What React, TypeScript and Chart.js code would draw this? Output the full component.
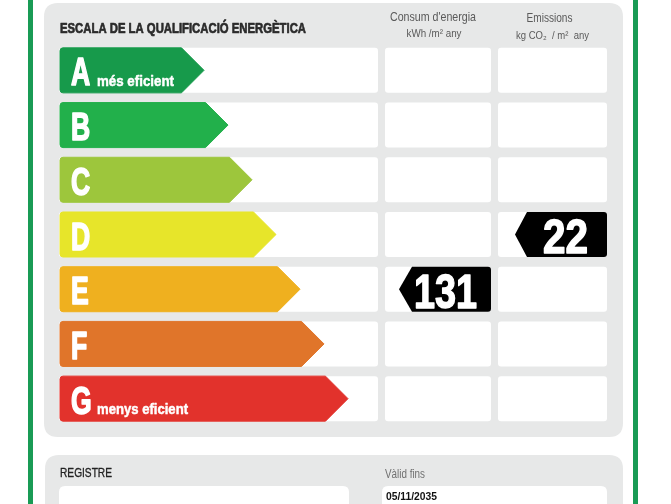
import React, { useEffect, useRef } from 'react';
import { Chart, registerables } from 'chart.js';

Chart.register(...registerables);

// ---- data ----
const ratings = ['A', 'B', 'C', 'D', 'E', 'F', 'G'];
const barLengths = [6, 7, 8, 9, 10, 11, 12];
const ratingColors = ['#179a4b', '#22b04b', '#9dc63c', '#e7e52a', '#efb01f', '#e0752a', '#e2322c'];
const ratingCaptions = ['més eficient', '', '', '', '', '', 'menys eficient'];
const energyValue = 131;
const energyClass = 'E';
const emissionsValue = 22;
const emissionsClass = 'D';
const titleText = 'ESCALA DE LA QUALIFICACIÓ ENERGÈTICA';
const energyHeader = ["Consum d'energia", 'kWh /m² any'];
const emissionsHeader = ['Emissions', 'kg CO₂  / m²  any'];
const registerLabel = 'REGISTRE';
const validLabel = 'Vàlid fins';
const validDate = '05/11/2035';

const PANEL = '#e7e8e8';
const FRAME = '#199b55';

function rr(ctx: CanvasRenderingContext2D, x: number, y: number, w: number, h: number, r: number) {
  ctx.beginPath();
  ctx.moveTo(x + r, y);
  ctx.lineTo(x + w - r, y);
  ctx.quadraticCurveTo(x + w, y, x + w, y + r);
  ctx.lineTo(x + w, y + h - r);
  ctx.quadraticCurveTo(x + w, y + h, x + w - r, y + h);
  ctx.lineTo(x + r, y + h);
  ctx.quadraticCurveTo(x, y + h, x, y + h - r);
  ctx.lineTo(x, y + r);
  ctx.quadraticCurveTo(x, y, x + r, y);
  ctx.closePath();
}

function fitText(
  ctx: CanvasRenderingContext2D,
  text: string,
  x: number,
  y: number,
  font: string,
  color: string,
  width: number,
  align: 'left' | 'center' = 'left',
  stroke = 0
) {
  ctx.save();
  ctx.font = font;
  ctx.fillStyle = color;
  ctx.strokeStyle = color;
  ctx.textAlign = 'left';
  ctx.textBaseline = 'alphabetic';
  const w = ctx.measureText(text).width || 1;
  const sx = width / w;
  const left = align === 'center' ? x - width / 2 : x;
  ctx.translate(left, y);
  ctx.scale(sx, 1);
  ctx.fillText(text, 0, 0);
  if (stroke > 0) {
    ctx.lineWidth = stroke;
    ctx.lineJoin = 'round';
    ctx.strokeText(text, 0, 0);
  }
  ctx.restore();
}

function scaledText(
  ctx: CanvasRenderingContext2D,
  text: string,
  x: number,
  y: number,
  font: string,
  color: string,
  sx: number,
  stroke = 0
) {
  ctx.save();
  ctx.font = font;
  ctx.fillStyle = color;
  ctx.strokeStyle = color;
  ctx.textAlign = 'left';
  ctx.textBaseline = 'alphabetic';
  ctx.translate(x, y);
  ctx.scale(sx, 1);
  ctx.fillText(text, 0, 0);
  if (stroke > 0) {
    ctx.lineWidth = stroke;
    ctx.lineJoin = 'round';
    ctx.strokeText(text, 0, 0);
  }
  ctx.restore();
}

const COL2 = { left: 385, right: 491 };
const COL3 = { left: 498, right: 607 };

const backgroundPlugin = {
  id: 'labelBackground',
  beforeDraw(chart: any) {
    const ctx: CanvasRenderingContext2D = chart.ctx;
    const W = chart.width;
    const H = chart.height;
    const area = chart.chartArea;
    ctx.save();
    ctx.fillStyle = '#ffffff';
    ctx.fillRect(0, 0, W, H);
    // frame lines
    ctx.fillStyle = FRAME;
    ctx.fillRect(28, 0, 5, H);
    ctx.fillRect(633, 0, 5, H);
    // panels
    ctx.fillStyle = PANEL;
    rr(ctx, 44, 3, 579, 434, 14);
    ctx.fill();
    rr(ctx, 45, 455, 578, 90, 14);
    ctx.fill();
    // row cells
    const meta = chart.getDatasetMeta(0);
    ctx.fillStyle = '#ffffff';
    meta.data.forEach((el: any) => {
      const h = el.height;
      const top = el.y - h / 2;
      rr(ctx, area.left - 1, top, area.right - area.left + 1, h, 3);
      ctx.fill();
      rr(ctx, COL2.left, top, COL2.right - COL2.left, h, 3);
      ctx.fill();
      rr(ctx, COL3.left, top, COL3.right - COL3.left, h, 3);
      ctx.fill();
    });
    // title
    fitText(ctx, titleText, 60, 33, 'bold 15px "Liberation Sans", Arial, sans-serif', '#2b2b2b', 246, 'left', 0.7);
    // headers
    const c2 = (COL2.left + COL2.right) / 2;
    const c3 = (COL3.left + COL3.right) / 2;
    fitText(ctx, energyHeader[0], c2 - 5, 21, '13px "Liberation Sans", Arial, sans-serif', '#5a5a5a', 86, 'center');
    fitText(ctx, energyHeader[1], c2 - 4, 37, '10.5px "Liberation Sans", Arial, sans-serif', '#5a5a5a', 55, 'center');
    fitText(ctx, emissionsHeader[0], c3 - 3, 22, '13px "Liberation Sans", Arial, sans-serif', '#5a5a5a', 46, 'center');
    fitText(ctx, emissionsHeader[1], c3, 39, '10.5px "Liberation Sans", Arial, sans-serif', '#5a5a5a', 73, 'center');
    // bottom panel
    ctx.fillStyle = '#ffffff';
    rr(ctx, 59, 486, 290, 40, 6);
    ctx.fill();
    rr(ctx, 382, 486, 225, 40, 6);
    ctx.fill();
    fitText(ctx, registerLabel, 60, 477, '13px "Liberation Sans", Arial, sans-serif', '#222222', 52, 'left', 0.3);
    fitText(ctx, validLabel, 385, 478, '12px "Liberation Sans", Arial, sans-serif', '#707070', 40);
    fitText(ctx, validDate, 386, 500, 'bold 11px "Liberation Sans", Arial, sans-serif', '#111111', 51);
    ctx.restore();
  },
};

function drawMarker(
  ctx: CanvasRenderingContext2D,
  right: number,
  bodyLeft: number,
  tipX: number,
  yc: number,
  h: number,
  text: string,
  textCenter: number,
  textWidth: number
) {
  const top = yc - h / 2;
  const bottom = yc + h / 2;
  ctx.save();
  ctx.fillStyle = '#000000';
  ctx.beginPath();
  ctx.moveTo(bodyLeft, top);
  ctx.lineTo(right - 3, top);
  ctx.quadraticCurveTo(right, top, right, top + 3);
  ctx.lineTo(right, bottom - 3);
  ctx.quadraticCurveTo(right, bottom, right - 3, bottom);
  ctx.lineTo(bodyLeft, bottom);
  ctx.lineTo(tipX, yc);
  ctx.closePath();
  ctx.fill();
  ctx.restore();
  fitText(ctx, text, textCenter, yc + 18.5, 'bold 48px "Liberation Sans", Arial, sans-serif', '#ffffff', textWidth, 'center', 1.5);
}

const arrowPlugin = {
  id: 'ratingArrows',
  afterDatasetsDraw(chart: any) {
    const ctx: CanvasRenderingContext2D = chart.ctx;
    const meta = chart.getDatasetMeta(0);
    meta.data.forEach((el: any, i: number) => {
      const h = el.height;
      const top = el.y - h / 2;
      const bottom = el.y + h / 2;
      const base = el.base;
      const tip = el.x;
      const tipW = h / 2;
      const r = 3;
      ctx.save();
      ctx.fillStyle = ratingColors[i];
      ctx.strokeStyle = ratingColors[i];
      ctx.lineWidth = 1;
      ctx.lineJoin = 'round';
      ctx.beginPath();
      ctx.moveTo(base + r, top);
      ctx.lineTo(tip - tipW, top);
      ctx.lineTo(tip, el.y);
      ctx.lineTo(tip - tipW, bottom);
      ctx.lineTo(base + r, bottom);
      ctx.quadraticCurveTo(base, bottom, base, bottom - r);
      ctx.lineTo(base, top + r);
      ctx.quadraticCurveTo(base, top, base + r, top);
      ctx.closePath();
      ctx.fill();
      ctx.stroke();
      ctx.restore();
      scaledText(ctx, ratings[i], base + 11, el.y + 15, 'bold 38px "Liberation Sans", Arial, sans-serif', '#ffffff', 0.7, 1.6);
      if (ratingCaptions[i]) {
        const tw = i === 0 ? 77 : 91;
        fitText(ctx, ratingCaptions[i], base + 37, el.y + 15.5, 'bold 15px "Liberation Sans", Arial, sans-serif', '#ffffff', tw, 'left', 0.5);
      }
    });
    // value markers
    const ei = ratings.indexOf(energyClass);
    const mi = ratings.indexOf(emissionsClass);
    const eEl: any = meta.data[ei];
    const mEl: any = meta.data[mi];
    drawMarker(ctx, COL2.right, COL2.right - 79, COL2.right - 92, eEl.y, eEl.height, String(energyValue), 445.5, 63);
    drawMarker(ctx, COL3.right, COL3.right - 80, COL3.right - 92, mEl.y, mEl.height, String(emissionsValue), 565.5, 45);
  },
};

export default function App() {
  const ref = useRef<HTMLCanvasElement | null>(null);
  useEffect(() => {
    if (!ref.current) return;
    const chart = new Chart(ref.current, {
      type: 'bar',
      data: {
        labels: ratings,
        datasets: [
          {
            data: barLengths,
            backgroundColor: 'rgba(0,0,0,0)',
            borderWidth: 0,
            barPercentage: 0.823,
            categoryPercentage: 1,
          },
        ],
      },
      options: {
        indexAxis: 'y',
        responsive: false,
        animation: false,
        devicePixelRatio: 1,
        layout: { padding: { left: 60, right: 293, top: 43, bottom: 78 } },
        scales: {
          x: { display: false, min: 0, max: 13.25 },
          y: { display: false },
        },
        plugins: {
          legend: { display: false },
          tooltip: { enabled: false },
        },
      },
      plugins: [backgroundPlugin, arrowPlugin],
    } as any);
    return () => chart.destroy();
  }, []);
  return (
    <div style={{ position: 'absolute', left: 0, top: 0, width: 671, height: 504 }}>
      <canvas ref={ref} width={671} height={504} style={{ display: 'block' }} />
    </div>
  );
}
